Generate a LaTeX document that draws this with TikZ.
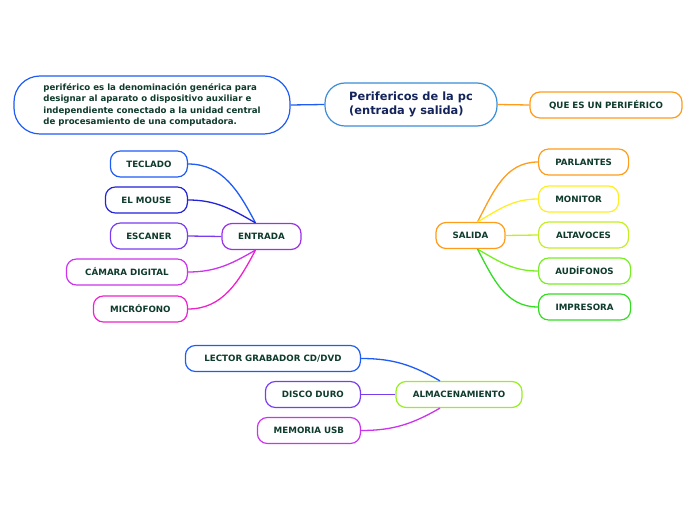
\documentclass[tikz,border=0pt]{standalone}
\usepackage{fontspec}
\setmainfont{DejaVu Sans}
\definecolor{texto}{HTML}{0E3B2C}
\definecolor{titulo}{HTML}{14245A}
\definecolor{cazul}{HTML}{1F5CF5}
\definecolor{cceleste}{HTML}{3A8ED8}
\definecolor{cmarino}{HTML}{2323D8}
\definecolor{cvioleta}{HTML}{7A3CF0}
\definecolor{cmorado}{HTML}{9A33E8}
\definecolor{clila}{HTML}{CC33EE}
\definecolor{crosa}{HTML}{EE22CC}
\definecolor{cnaranja}{HTML}{FF9C1A}
\definecolor{camarillo}{HTML}{FFEE22}
\definecolor{climon}{HTML}{C4EE22}
\definecolor{clima}{HTML}{99EE22}
\definecolor{cverde}{HTML}{77EE22}
\definecolor{cpasto}{HTML}{33DD22}
\tikzset{
  hoja/.style={draw=#1, line width=1.2pt, rounded corners=10pt, fill=white,
    minimum height=26pt, inner sep=0pt, text=texto,
    font=\fontsize{8.7}{10}\selectfont\bfseries},
  rama/.style={draw=#1, line width=1.3pt},
}

\begin{document}
\begin{tikzpicture}[x=1pt,y=1pt]
    \useasboundingbox (0,0) rectangle (696,520);
    % centro
    \node[hoja=cceleste, rounded corners=20pt, minimum width=172pt, minimum height=43pt,
      text=titulo, align=left, font=\fontsize{11.4}{14.5}\selectfont\bfseries]
      (pc) at (411,415.5) {Perifericos de la pc\\(entrada y salida)};
    \node[hoja=cazul, rounded corners=26pt, minimum width=276pt, minimum height=58pt,
      align=left, font=\fontsize{8.6}{11.2}\selectfont\bfseries]
      (def) at (152,415) {periférico es la denominación genérica para\\designar al aparato o dispositivo auxiliar e\\independiente conectado a la unidad central\\de procesamiento de una computadora.};
    \node[hoja=cnaranja, minimum width=152pt] (que) at (606,415) {QUE ES UN PERIFÉRICO};
    \draw[rama=cazul] (def.east) -- (pc.west);
    \draw[rama=cnaranja] (pc.east) -- (que.west);

    % entrada
    \node[hoja=cmorado, minimum width=79pt] (entrada) at (261.5,283.5) {ENTRADA};
    \node[hoja=cazul, minimum width=77pt, anchor=east] (teclado) at (188,356) {TECLADO};
    \node[hoja=cmarino, minimum width=82pt, anchor=east] (mouse) at (188,320) {EL MOUSE};
    \node[hoja=cvioleta, minimum width=77pt, anchor=east] (escaner) at (188,284) {ESCANER};
    \node[hoja=clila, minimum width=121pt, anchor=east] (camara) at (188,248) {CÁMARA DIGITAL};
    \node[hoja=crosa, minimum width=94pt, anchor=east] (micro) at (188,211) {MICRÓFONO};
    \coordinate (ea) at ([xshift=-6pt]entrada.north);
    \coordinate (eb) at ([xshift=-6pt]entrada.south);
    \draw[rama=cazul] (teclado.east) to[out=0,in=118] (ea);
    \draw[rama=cmarino] (mouse.east) to[out=0,in=150] (ea);
    \draw[rama=cvioleta] (escaner.east) -- (entrada.west);
    \draw[rama=clila] (camara.east) to[out=0,in=-150] (eb);
    \draw[rama=crosa] (micro.east) to[out=0,in=-118] (eb);

    % salida
    \node[hoja=cnaranja, minimum width=69pt] (salida) at (470.5,284.5) {SALIDA};
    \node[hoja=cnaranja, minimum width=90pt, anchor=west] (parlantes) at (538,358) {PARLANTES};
    \node[hoja=camarillo, minimum width=80pt, anchor=west] (monitor) at (538,321) {MONITOR};
    \node[hoja=climon, minimum width=90pt, anchor=west] (altavoces) at (538,285) {ALTAVOCES};
    \node[hoja=cverde, minimum width=92pt, anchor=west] (audifonos) at (538,249) {AUDÍFONOS};
    \node[hoja=cpasto, minimum width=92pt, anchor=west] (impresora) at (538,213) {IMPRESORA};
    \coordinate (sa) at ([xshift=7pt]salida.north);
    \coordinate (sb) at ([xshift=7pt]salida.south);
    \draw[rama=cnaranja] (parlantes.west) to[out=180,in=62] (sa);
    \draw[rama=camarillo] (monitor.west) to[out=180,in=30] (sa);
    \draw[rama=climon] (altavoces.west) -- (salida.east);
    \draw[rama=cverde] (audifonos.west) to[out=180,in=-30] (sb);
    \draw[rama=cpasto] (impresora.west) to[out=180,in=-62] (sb);

    % almacenamiento
    \node[hoja=clima, minimum width=126pt] (almac) at (459,125.5) {ALMACENAMIENTO};
    \node[hoja=cazul, minimum width=175pt, anchor=east] (lector) at (361,161.5) {LECTOR GRABADOR CD/DVD};
    \node[hoja=cvioleta, minimum width=95pt, anchor=east] (disco) at (361,125.5) {DISCO DURO};
    \node[hoja=clila, minimum width=103pt, anchor=east] (usb) at (361,89.5) {MEMORIA USB};
    \coordinate (aa) at ([xshift=-19pt]almac.north);
    \coordinate (ab) at ([xshift=-19pt]almac.south);
    \draw[rama=cazul] (lector.east) to[out=0,in=150] (aa);
    \draw[rama=cvioleta] (disco.east) -- (almac.west);
    \draw[rama=clila] (usb.east) to[out=0,in=-150] (ab);
\end{tikzpicture}
\end{document}
